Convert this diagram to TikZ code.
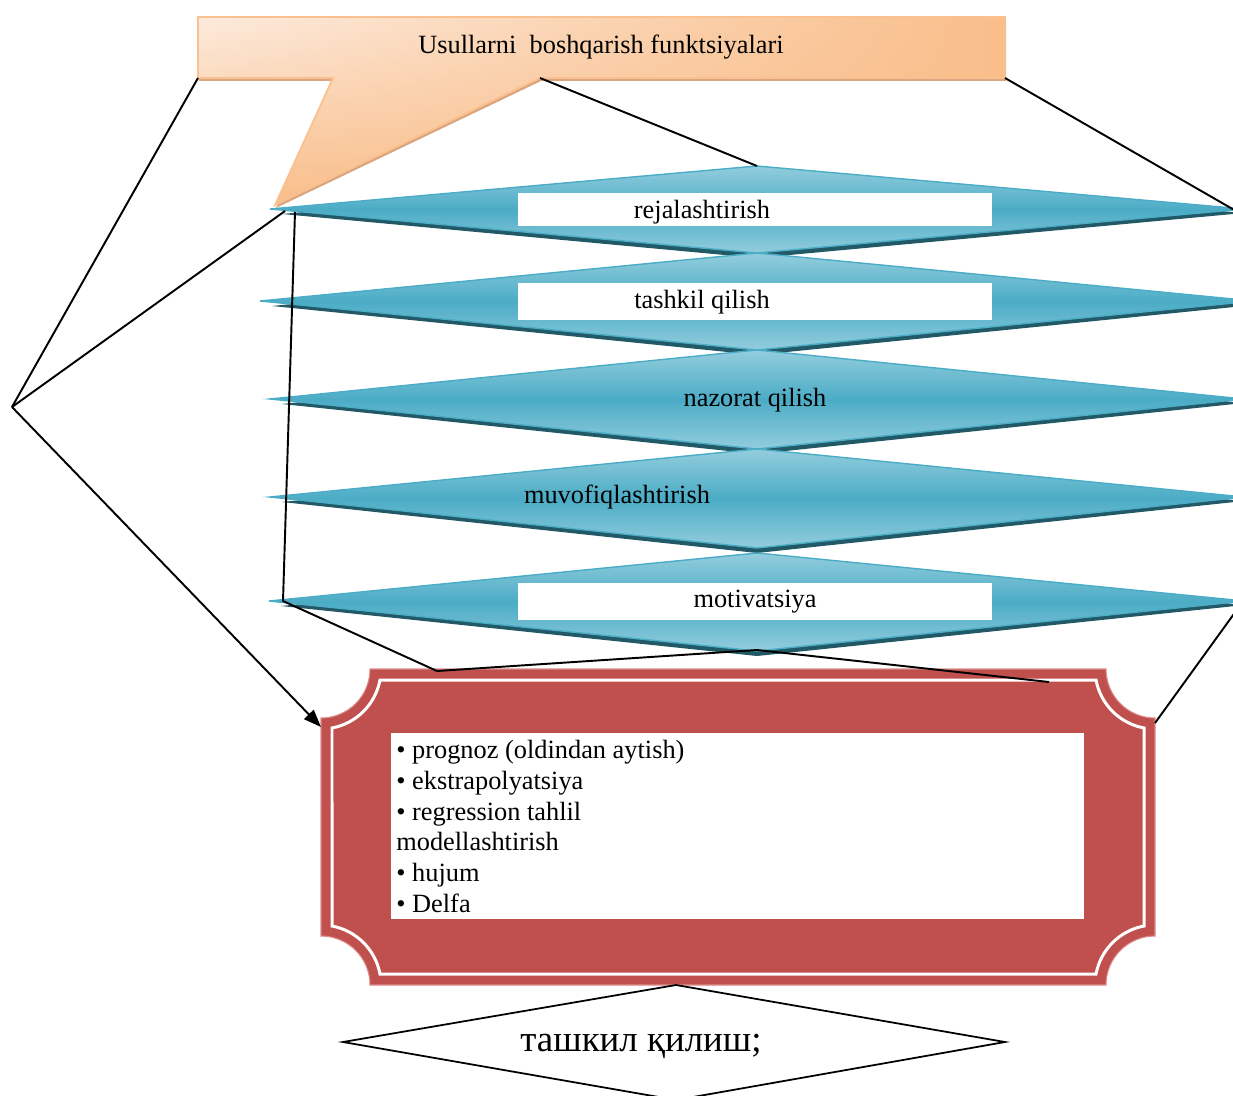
\documentclass[tikz,border=0pt]{standalone}
\usepackage{fontspec}
\setmainfont{Liberation Serif}
\usetikzlibrary{arrows.meta,fadings}
\definecolor{peachL}{HTML}{FDEBDD}
\definecolor{peachD}{HTML}{F9BE8A}
\definecolor{peachB}{HTML}{FAC08F}
\definecolor{peachS}{HTML}{D9A680}
\definecolor{tealL}{HTML}{93CDDD}
\definecolor{tealM}{HTML}{4BACC6}
\definecolor{tealD}{HTML}{215967}
\definecolor{redbox}{HTML}{C0504D}
\definecolor{rededge}{HTML}{DC8C8A}
\tikzfading[name=fadeleft, left color=transparent!100, right color=transparent!0]
\begin{document}
\begin{tikzpicture}[x=0.02cm,y=0.02cm,
  conn/.style={black, line width=1.1pt},
  bluedia/.style={top color=tealL, bottom color=tealL, middle color=tealM, draw=tealM, line width=0.8pt},
  diashadow/.style={fill=tealD},
  lbl/.style={font=\fontsize{15pt}{17.5pt}\selectfont, inner sep=0pt},
  labelbox/.style={fill=white, draw=none},
  calloutbase/.style={top color=peachL, bottom color=peachD},
  callouttint/.style={fill=peachD, path fading=fadeleft},
  calloutedge/.style={draw=peachB, line width=1pt}
]
\useasboundingbox (0,0) rectangle (1233,-1095);
\clip (0,0) rectangle (1233,-1095);

% ---------- callout ----------
\coordinate (ctl) at (198,-17);
\coordinate (ctr) at (1005,-17);
\coordinate (cbr) at (1005,-78);
\coordinate (cpr) at (540,-78);
\coordinate (ctip) at (275,-205);
\coordinate (cpl) at (333,-78);
\coordinate (cbl) at (198,-78);
\fill[peachS] ([shift={(1,-3)}]ctl) -- ([shift={(1,-3)}]ctr) -- ([shift={(1,-3)}]cbr) -- ([shift={(1,-3)}]cpr) -- ([shift={(1,-3)}]ctip) -- ([shift={(1,-3)}]cpl) -- ([shift={(1,-3)}]cbl) -- cycle;
\path[calloutbase] (ctl) -- (ctr) -- (cbr) -- (cpr) -- (ctip) -- (cpl) -- (cbl) -- cycle;
\path[callouttint] (ctl) -- (ctr) -- (cbr) -- (cpr) -- (ctip) -- (cpl) -- (cbl) -- cycle;
\path[calloutedge] (ctl) -- (ctr) -- (cbr) -- (cpr) -- (ctip) -- (cpl) -- (cbl) -- cycle;
\node[lbl] (ctext) at (601,-47) {Usullarni\ \ boshqarish funktsiyalari};

% ---------- blue diamonds ----------
\foreach \n/\l/\t/\y/\b in {1/270/166/209/253, 2/260/253/301/350, 3/270/350/399/449, 4/270/449/497/548, 5/269/553/601/651}{
  \pgfmathsetmacro{\r}{1514-\l}
  \coordinate (d\n l) at (\l,-\y);
  \coordinate (d\n t) at (757,-\t);
  \coordinate (d\n r) at (\r,-\y);
  \coordinate (d\n b) at (757,-\b);
  \fill[diashadow] ([shift={(12,-5)}]d\n l) -- ([shift={(0,-4)}]d\n t) -- ([shift={(0,-4)}]d\n r) -- ([shift={(0,-5)}]d\n b) -- cycle;
  \path[bluedia] (d\n l) -- (d\n t) -- (d\n r) -- (d\n b) -- cycle;
}
\fill[labelbox] (518,-193) rectangle (992,-226);
\fill[labelbox] (518,-283) rectangle (992,-320);
\fill[labelbox] (518,-583) rectangle (992,-620);
\node[lbl] (t1) at (702,-212) {rejalashtirish};
\node[lbl] (t2) at (702,-302) {tashkil qilish};
\node[lbl] (t3) at (755,-400) {nazorat qilish};
\node[lbl] (t4) at (617,-497) {muvofiqlashtirish};
\node[lbl] (t5) at (755,-602) {motivatsiya};

% ---------- red frame ----------
\filldraw[fill=redbox, draw=rededge, line width=0.6pt] (370,-669) -- (1106,-669) arc[start angle=180, end angle=270, radius=0.98cm]
  -- (1155,-936) arc[start angle=90, end angle=180, radius=0.98cm]
  -- (370,-985) arc[start angle=0, end angle=90, radius=0.98cm]
  -- (321,-718) arc[start angle=-90, end angle=0, radius=0.98cm] -- cycle;
\draw[white, line width=1.7pt] (1096.02,-680) arc[start angle=190.56, end angle=259.44, radius=1.2cm]
  -- (1144,-926.02) arc[start angle=100.56, end angle=169.44, radius=1.2cm]
  -- (379.98,-974) arc[start angle=10.56, end angle=79.44, radius=1.2cm]
  -- (332,-727.98) arc[start angle=-79.44, end angle=-10.56, radius=1.2cm] -- cycle;
\fill[white] (391,-733) rectangle (1084,-919);
\node[lbl, anchor=north west, align=left] (list) at (396,-740)
  {• prognoz (oldindan aytish)\\• ekstrapolyatsiya\\• regression tahlil\\modellashtirish\\• hujum\\• Delfa};
\coordinate (rtl) at (321,-727);
\coordinate (rt1) at (437,-671);
\coordinate (rt2) at (1049,-682);
\coordinate (rtr) at (1155,-723);
\coordinate (rbm) at (676,-985);

% ---------- bottom diamond ----------
\coordinate (bl) at (343,-1042);
\coordinate (br) at (1005,-1042);
\coordinate (bb) at (676,-1100);
\draw[black, line width=1pt] (bl) -- (rbm) -- (br) -- (bb) -- cycle;
\node[font=\fontsize{21pt}{25pt}\selectfont, inner sep=0pt] (bt) at (641,-1046) {ташкил қилиш;};

% ---------- connectors ----------
\coordinate (hub) at (12,-407);
\coordinate (d1a) at (285,-211);
\coordinate (v1) at (295,-212);
\coordinate (v2) at (283,-601);
\coordinate (d5m) at (757,-650);
\coordinate (d1e) at (1236,-211);
\coordinate (d5e) at (1236,-611);
\draw[conn] (cbl) -- (hub);
\draw[conn] (hub) -- (d1a);
\draw[conn, -{Triangle[length=10pt, width=7.5pt]}] (hub) -- (rtl);
\draw[conn] (cpr) -- (d1t);
\draw[conn] (cbr) -- (d1e);
\draw[conn] (v1) -- (v2) -- (rt1) -- (d5m) -- (rt2);
\draw[conn] (d5e) -- (rtr);
\end{tikzpicture}
\end{document}
